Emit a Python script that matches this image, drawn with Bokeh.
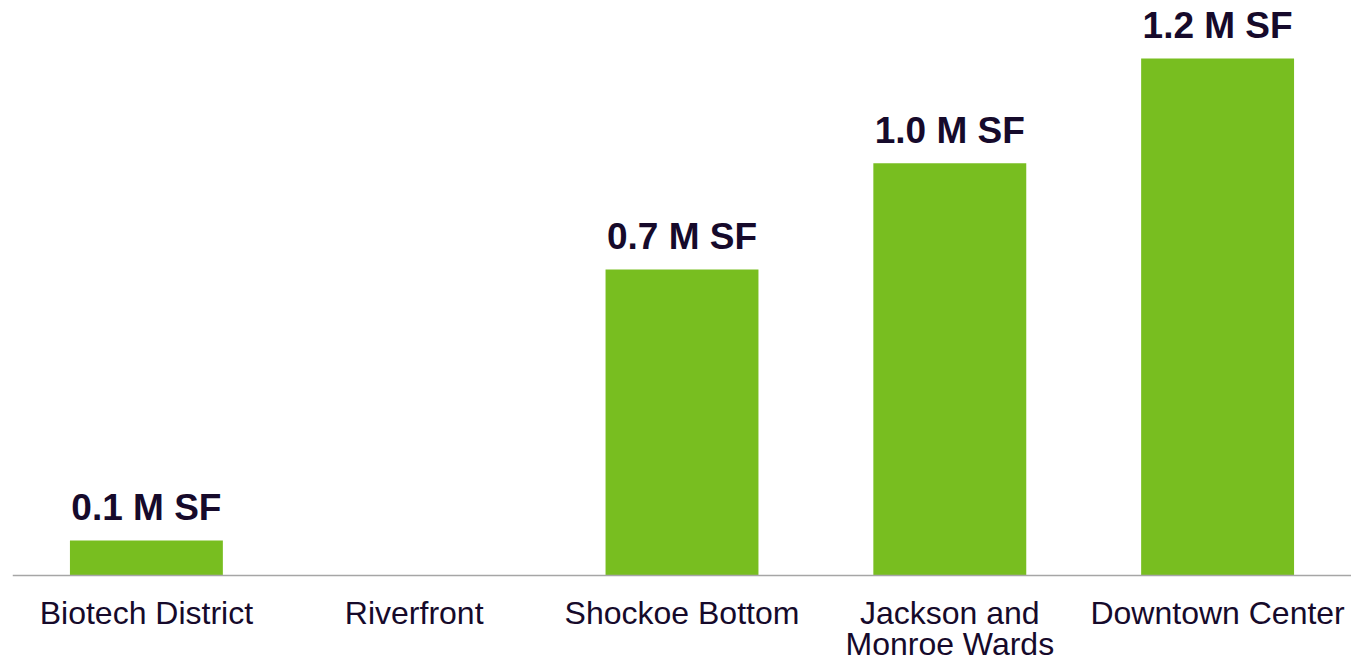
from bokeh.plotting import figure
from bokeh.models import Range1d, FactorRange, Span, ColumnDataSource
from bokeh.core.properties import value
from bokeh.embed import file_html
from bokeh.resources import INLINE

categories = ["Biotech District", "Riverfront", "Shockoe Bottom", "Jackson and", "Downtown Center"]
cat_line2 = ["", "", "", "Monroe Wards", ""]
values = [0.081, 0.0, 0.71, 0.957, 1.20]
value_labels = ["0.1 M SF", "", "0.7 M SF", "1.0 M SF", "1.2 M SF"]

BAR = "#78BE20"
TXT = "#160A2B"

src = ColumnDataSource(dict(x=categories, top=values, lab=value_labels,
                            l2=cat_line2))

p = figure(x_range=FactorRange(*categories, range_padding=0),
           y_range=Range1d(-0.2043, 1.3346),
           width=1351, height=663, output_backend="svg", toolbar_location=None,
           min_border_left=12, min_border_right=0, min_border_top=0, min_border_bottom=0)
p.x_range.range_padding = 0
p.axis.visible = False
p.grid.visible = False
p.outline_line_color = None
p.background_fill_color = "white"
p.border_fill_color = "white"

p.vbar(x="x", top="top", bottom=0, width=0.571, source=src,
       fill_color=BAR, line_color=None)

p.add_layout(Span(location=0, dimension="width", line_color="#A6A6A6", line_width=1.5))

p.text(x="x", y="top", text="lab", source=src, text_align="center",
       text_baseline="alphabetic", y_offset=-33,
       text_font=value("Liberation Sans"), text_font_style="bold",
       text_font_size="37px", text_color=TXT)

p.text(x="x", y=0, text="x", source=src, text_align="center",
       text_baseline="alphabetic", y_offset=38,
       text_font=value("Liberation Sans"), text_font_size="32px", text_color=TXT)
p.text(x="x", y=0, text="l2", source=src, text_align="center",
       text_baseline="alphabetic", y_offset=69,
       text_font=value("Liberation Sans"), text_font_size="32px", text_color=TXT)

open("out.html", "w").write(file_html(p, INLINE))
